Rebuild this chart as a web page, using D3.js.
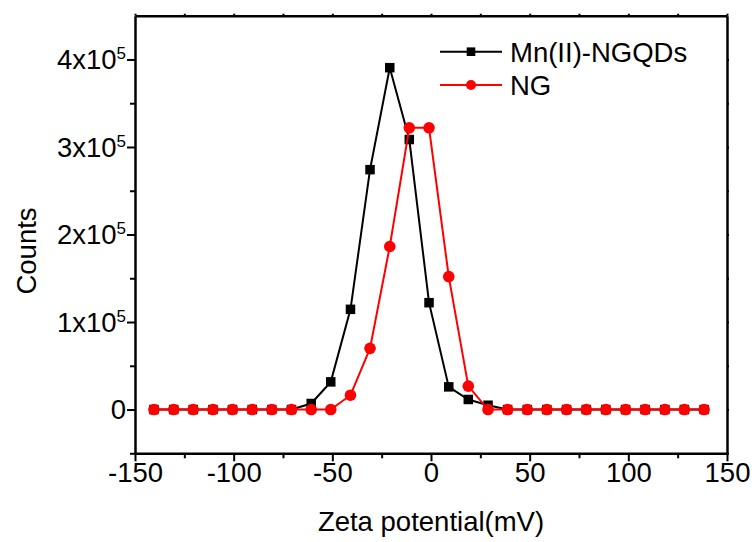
<!DOCTYPE html>
<html>
<head>
<meta charset="utf-8">
<script src="https://cdn.jsdelivr.net/npm/d3@7"></script>
<style>
  body { margin: 0; background: #fff; }
  text { font-family: "Liberation Sans", Arial, sans-serif; fill: #000; }
</style>
</head>
<body>
<div id="chart"></div>
<script>
// zeta potential bins (mV)
var zeta = [-140.4, -130.4, -120.5, -110.5, -100.6, -90.6, -80.7, -70.7, -60.7, -50.8,
            -40.8, -30.9, -20.9, -11.0, -1.0, 9.0, 18.9, 28.9, 38.8, 48.8,
            58.7, 68.7, 78.7, 88.6, 98.6, 108.5, 118.5, 128.4, 138.4];
// counts, Mn(II)-NGQDs
var mnCounts = [0, 0, 0, 0, 0, 0, 0, 0, 6900, 31600,
                114500, 274100, 390600, 308500, 122100, 25900, 11500, 4900, 0, 0,
                0, 0, 0, 0, 0, 0, 0, 0, 0];
// counts, NG
var ngCounts = [0, 0, 0, 0, 0, 0, 0, 0, 0, 0,
                16400, 69900, 186300, 321900, 321900, 151900, 26700, 0, 0, 0,
                0, 0, 0, 0, 0, 0, 0, 0, 0];
var seriesNames = ['Mn(II)-NGQDs', 'NG'];
var xTicks = [-150, -100, -50, 0, 50, 100, 150];
var xMinor = [-125, -75, -25, 25, 75, 125];
var yTicks = [0, 100000, 200000, 300000, 400000];
var yMinor = [-50000, 50000, 150000, 250000, 350000];
var yMantissa = ['0', '1', '2', '3', '4'];

var svgWidth = 756, svgHeight = 542
var margin = {top: 15.7, left: 135, right: 756 - 727, bottom: 542 - 453.3}
var width = svgWidth - margin.left - margin.right
var height = svgHeight - margin.top - margin.bottom
var fontSize = 27.5

var svg = d3.select('#chart').append('svg')
    .attr('width', svgWidth)
    .attr('height', svgHeight)

var xScale = d3.scaleLinear().domain([-150, 150]).range([margin.left, margin.left + width])
var yScale = d3.scaleLinear().domain([-50000, 450000]).range([margin.top + height, margin.top])

//frame (top and right mirror axes with tiny ticks)
svg.append('g')
    .attr('transform', `translate(0, ${margin.top})`)
    .call(d3.axisTop(xScale).tickValues(xTicks.concat(xMinor)).tickSize(2).tickSizeOuter(0).tickFormat(''))
svg.append('g')
    .attr('transform', `translate(${margin.left + width}, 0)`)
    .call(d3.axisRight(yScale).tickValues(yTicks.concat(yMinor)).tickSize(2).tickSizeOuter(0).tickFormat(''))

//bottom axis
var xAxisG = svg.append('g')
    .attr('transform', `translate(0, ${margin.top + height})`)
    .call(d3.axisBottom(xScale).tickValues(xTicks).tickSize(8).tickSizeOuter(0).tickFormat(d => String(d)))
xAxisG.append('g')
    .call(d3.axisBottom(xScale).tickValues(xMinor).tickSize(5).tickSizeOuter(0).tickFormat(''))
    .select('.domain').remove()
xAxisG.selectAll('text')
    .attr('y', 29).attr('dy', 0)
    .style('font-size', fontSize + 'px')

//left axis
var yAxisG = svg.append('g')
    .attr('transform', `translate(${margin.left}, 0)`)
    .call(d3.axisLeft(yScale).tickValues(yTicks).tickSize(8).tickSizeOuter(0).tickFormat(''))
yAxisG.append('g')
    .call(d3.axisLeft(yScale).tickValues(yMinor).tickSize(5).tickSizeOuter(0).tickFormat(''))
    .select('.domain').remove()

yTicks.forEach(function(v, i) {
    var t = svg.append('text')
        .attr('text-anchor', 'end')
        .attr('x', margin.left - 9)
        .attr('y', yScale(v) + 9.8)
        .style('font-size', fontSize + 'px')
    if (v === 0) {
        t.text('0')
    } else {
        t.append('tspan').text(yMantissa[i] + 'x10')
        t.append('tspan').attr('dy', -10).style('font-size', '17px').text('5')
    }
})

svg.selectAll('.domain').attr('stroke-width', 2.5)
svg.selectAll('.tick line').attr('stroke-width', 2)

//axis titles
svg.append('text')
    .attr('text-anchor', 'middle')
    .attr('x', xScale(0)).attr('y', 531)
    .style('font-size', fontSize + 'px')
    .text('Zeta potential(mV)')

svg.append('text')
    .attr('text-anchor', 'middle')
    .attr('transform', 'translate(36, 251) rotate(-90)')
    .style('font-size', fontSize + 'px')
    .text('Counts')

//series
var line = d3.line()
    .x(d => xScale(d[0]))
    .y(d => yScale(d[1]))

var mnData = zeta.map((z, i) => [z, mnCounts[i]])
var ngData = zeta.map((z, i) => [z, ngCounts[i]])

svg.append('path').datum(mnData)
    .attr('d', line).attr('fill', 'none').attr('stroke', '#000').attr('stroke-width', 2)
svg.selectAll('.mnPoint').data(mnData).enter().append('rect')
    .attr('class', 'mnPoint')
    .attr('x', d => xScale(d[0]) - 4.75)
    .attr('y', d => yScale(d[1]) - 4.75)
    .attr('width', 9.5).attr('height', 9.5)
    .attr('fill', '#000')

svg.append('path').datum(ngData)
    .attr('d', line).attr('fill', 'none').attr('stroke', '#ff0000').attr('stroke-width', 2)
svg.selectAll('.ngPoint').data(ngData).enter().append('circle')
    .attr('class', 'ngPoint')
    .attr('cx', d => xScale(d[0]))
    .attr('cy', d => yScale(d[1]))
    .attr('r', 5.8)
    .attr('fill', '#ff0000')

//legend
var legend = svg.append('g')
var legendColors = ['#000', '#ff0000']
seriesNames.forEach(function(name, i) {
    var ly = 51.7 + i * 33.3
    legend.append('line')
        .attr('x1', 440).attr('x2', 502).attr('y1', ly).attr('y2', ly)
        .attr('stroke', legendColors[i]).attr('stroke-width', 2)
    if (i === 0) {
        legend.append('rect')
            .attr('x', 471 - 4.3).attr('y', ly - 4.3).attr('width', 8.6).attr('height', 8.6)
            .attr('fill', legendColors[i])
    } else {
        legend.append('circle')
            .attr('cx', 471).attr('cy', ly).attr('r', 5)
            .attr('fill', legendColors[i])
    }
    legend.append('text')
        .attr('x', 510).attr('y', ly + 9.8)
        .style('font-size', fontSize + 'px')
        .text(name)
})
</script>
</body>
</html>
